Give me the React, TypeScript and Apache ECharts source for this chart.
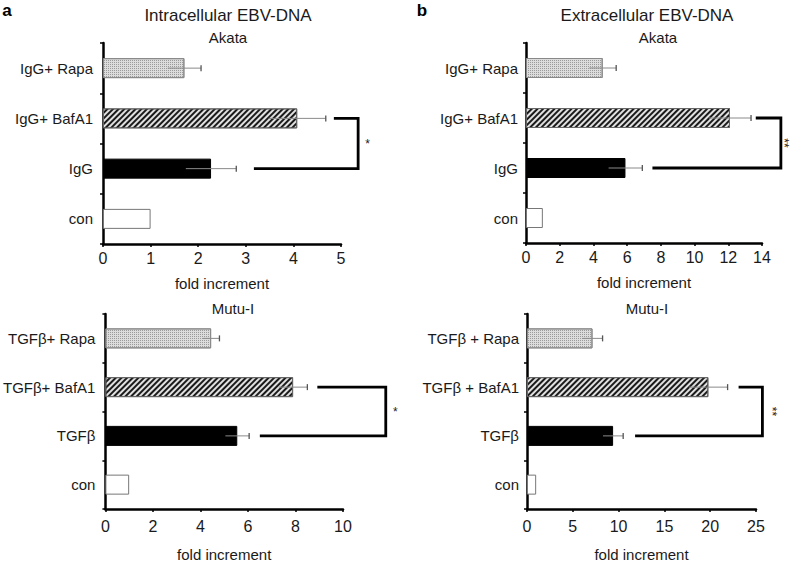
import React, { useEffect, useRef } from "react";
import * as echarts from "echarts";

// ---------- data ----------
const akataCategories = ["IgG+ Rapa", "IgG+ BafA1", "IgG", "con"];
const mutuIntraCategories = ["TGFβ+ Rapa", "TGFβ+ BafA1", "TGFβ", "con"];
const mutuExtraCategories = ["TGFβ + Rapa", "TGFβ + BafA1", "TGFβ", "con"];

const intraAkataValues = [1.71, 4.08, 2.27, 1.0];
const intraAkataErrors = [0.35, 0.6, 0.53, 0];
const extraAkataValues = [4.55, 12.1, 5.9, 1.0];
const extraAkataErrors = [0.8, 1.25, 1.0, 0];
const intraMutuValues = [4.45, 7.9, 5.55, 1.0];
const intraMutuErrors = [0.35, 0.6, 0.5, 0];
const extraMutuValues = [7.15, 19.8, 9.4, 1.0];
const extraMutuErrors = [1.1, 2.1, 1.1, 0];

// axis ranges [max, interval]
const intraAkataAxis = [5, 1];
const extraAkataAxis = [14, 2];
const intraMutuAxis = [10, 2];
const extraMutuAxis = [25, 5];

// significance brackets: [top start x, vertical x, bottom start x, label x]
const intraAkataBracket = [4.85, 5.36, 3.17, 5.56];
const extraAkataBracket = [13.63, 15.12, 7.5, 15.3];
const intraMutuBracket = [8.92, 11.8, 6.5, 12.2];
const extraMutuBracket = [23.1, 25.7, 11.8, 26.7];
const bracketLabels = ["*", "**", "*", "**"];

const titles = ["Intracellular EBV-DNA", "Extracellular EBV-DNA"];
const cellLines = ["Akata", "Akata", "Mutu-I", "Mutu-I"];
const panelLetters = ["a", "b"];
const axisName = "fold increment";

// ---------- styles ----------
const FONT = "Liberation Sans, Arial, sans-serif";
const TEXT = "#1a1a1a";

const rowStyles = [
  {
    color: "#dcdcdc",
    borderColor: "#888",
    borderWidth: 1,
    decal: {
      symbol: "rect",
      symbolSize: 1,
      dashArrayX: [1, 1],
      dashArrayY: [1, 1],
      color: "#9a9a9a",
      backgroundColor: "#e8e8e8",
    },
  },
  {
    color: "#e0e0e0",
    borderColor: "#666",
    borderWidth: 1,
    decal: {
      symbol: "rect",
      symbolSize: 1,
      dashArrayX: [1, 0],
      dashArrayY: [1.3, 1.7],
      rotation: -Math.PI / 4,
      color: "#1a1a1a",
      backgroundColor: "#e6e6e6",
    },
  },
  { color: "#000", borderColor: "#000", borderWidth: 1 },
  { color: "#fff", borderColor: "#777", borderWidth: 1 },
];

const grids = [
  { left: 103, top: 43, width: 238, height: 201 },
  { left: 526, top: 43, width: 236, height: 200 },
  { left: 103, top: 314, width: 240, height: 202 },
  { left: 527, top: 314, width: 229, height: 202 },
];

export default function App() {
  const ref = useRef<HTMLDivElement>(null);

  useEffect(() => {
    if (!ref.current) return;
    const chart = echarts.init(ref.current, null, { renderer: "svg" });

    const panels = [
      { cats: akataCategories, vals: intraAkataValues, errs: intraAkataErrors, axis: intraAkataAxis, br: intraAkataBracket },
      { cats: akataCategories, vals: extraAkataValues, errs: extraAkataErrors, axis: extraAkataAxis, br: extraAkataBracket },
      { cats: mutuIntraCategories, vals: intraMutuValues, errs: intraMutuErrors, axis: intraMutuAxis, br: intraMutuBracket },
      { cats: mutuExtraCategories, vals: extraMutuValues, errs: extraMutuErrors, axis: extraMutuAxis, br: extraMutuBracket },
    ];

    const xAxes: any[] = [];
    const yAxes: any[] = [];
    const series: any[] = [];

    panels.forEach((p, i) => {
      const right = i % 2 === 1;
      const bottom = i >= 2;
      xAxes.push({
        gridIndex: i,
        type: "value",
        min: 0,
        max: p.axis[0],
        interval: p.axis[1],
        axisLine: { show: true, lineStyle: { color: "#000", width: 2.5 } },
        axisTick: { show: true, length: 3, lineStyle: { color: "#000", width: 1.5 } },
        splitLine: { show: false },
        axisLabel: { fontSize: 16, color: TEXT, fontFamily: FONT, margin: bottom ? 9 : 6 },
        name: axisName,
        nameLocation: "middle",
        nameGap: bottom ? 38 : 32,
        nameTextStyle: { fontSize: 15, color: TEXT, fontFamily: FONT },
      });
      yAxes.push({
        gridIndex: i,
        type: "category",
        data: p.cats,
        inverse: true,
        axisLine: { show: true, lineStyle: { color: "#000", width: 2.5 } },
        axisTick: { show: true, length: 3, lineStyle: { color: "#000", width: 1.5 } },
        axisLabel: { fontSize: 15, color: TEXT, fontFamily: FONT, margin: right ? 8 : 10 },
      });
      series.push({
        type: "bar",
        xAxisIndex: i,
        yAxisIndex: i,
        barWidth: 20,
        silent: true,
        data: p.vals.map((v, k) => ({ value: v, itemStyle: rowStyles[k] })),
      });
      series.push({
        type: "custom",
        xAxisIndex: i,
        yAxisIndex: i,
        silent: true,
        z: 4,
        data: p.vals
          .map((v, k) => [v - p.errs[k], k, v + p.errs[k], p.errs[k]])
          .filter((d) => d[3] > 0),
        encode: { x: [0, 2], y: 1 },
        renderItem: (params: any, api: any) => {
          const lo = api.coord([api.value(0), api.value(1)]);
          const hi = api.coord([api.value(2), api.value(1)]);
          return {
            type: "group",
            children: [
              { type: "line", shape: { x1: lo[0], y1: lo[1], x2: hi[0], y2: hi[1] }, style: { stroke: "#8a8a8a", lineWidth: 1 } },
              { type: "line", shape: { x1: hi[0], y1: hi[1] - 3, x2: hi[0], y2: hi[1] + 3 }, style: { stroke: "#555", lineWidth: 1.3 } },
            ],
          };
        },
      });
      series.push({
        type: "custom",
        xAxisIndex: i,
        yAxisIndex: i,
        silent: true,
        z: 5,
        clip: false,
        data: [[p.br[0], p.br[1], p.br[2], 1, 2, p.br[3]]],
        encode: { x: [0, 1, 2, 5], y: [3, 4] },
        renderItem: (params: any, api: any) => {
          const y1 = api.value(3);
          const y2 = api.value(4);
          const a = api.coord([api.value(0), y1]);
          const b = api.coord([api.value(1), y1]);
          const c = api.coord([api.value(1), y2]);
          const d = api.coord([api.value(2), y2]);
          const l = api.coord([api.value(5), y1]);
          const double = bracketLabels[i].length > 1;
          return {
            type: "group",
            children: [
              {
                type: "polyline",
                shape: { points: [a, b, c, d] },
                style: { stroke: "#000", lineWidth: 2.8, fill: null },
              },
              {
                type: "text",
                x: l[0],
                y: (b[1] + c[1]) / 2,
                rotation: double ? -Math.PI / 2 : 0,
                style: {
                  text: bracketLabels[i],
                  font: `12px ${FONT}`,
                  fill: "#222",
                  align: "center",
                  verticalAlign: "middle",
                  textAlign: "center",
                  textVerticalAlign: "middle",
                },
              },
            ],
          };
        },
      });
    });

    const textEl = (text: string, x: number, y: number, size: number, bold = false) => ({
      type: "text",
      x,
      y,
      style: {
        text,
        font: `${bold ? "bold " : ""}${size}px ${FONT}`,
        fill: bold ? "#000" : TEXT,
        align: "center",
        verticalAlign: "middle",
        textAlign: "center",
        textVerticalAlign: "middle",
      },
    });

    const graphic = [
      textEl(panelLetters[0], 7, 10, 17, true),
      textEl(panelLetters[1], 422, 10, 17, true),
      textEl(titles[0], 228, 15, 17),
      textEl(titles[1], 647, 15, 17),
      textEl(cellLines[0], 228, 37, 15),
      textEl(cellLines[1], 658, 37, 15),
      textEl(cellLines[2], 233, 308, 15),
      textEl(cellLines[3], 647, 308, 15),
    ];

    chart.setOption({
      animation: false,
      backgroundColor: "#fff",
      grid: grids,
      xAxis: xAxes,
      yAxis: yAxes,
      series,
      graphic,
    });

    return () => chart.dispose();
  }, []);

  return (
    <div
      ref={ref}
      style={{ position: "absolute", left: 0, top: 0, width: 793, height: 563 }}
    />
  );
}
